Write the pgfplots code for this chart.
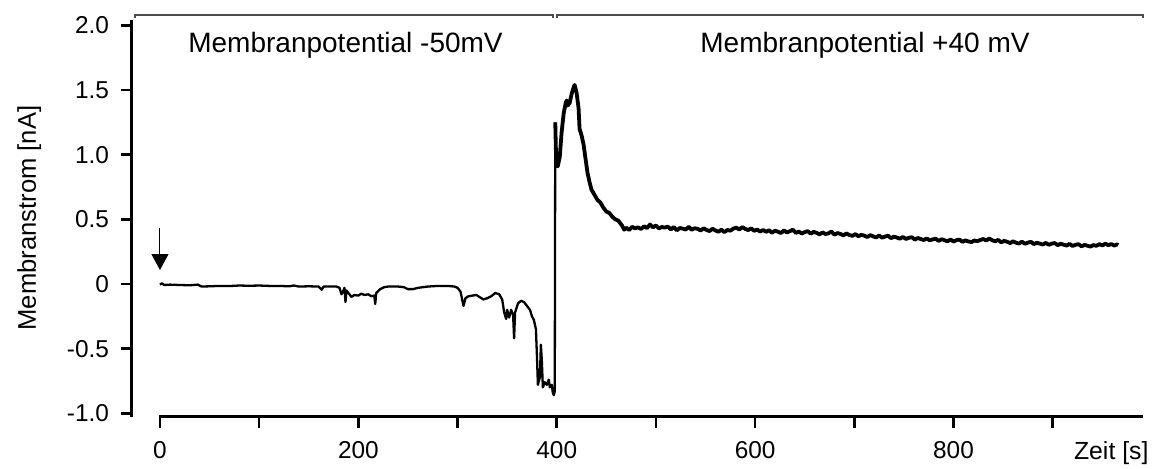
\documentclass[border=0pt]{standalone}
\usepackage{pgfplots}
\pgfplotsset{compat=1.18}
\usepackage{fontspec}
\setmainfont{Liberation Sans}
\usetikzlibrary{arrows.meta}
\begin{document}
\begin{tikzpicture}[x=1pt,y=1pt]
\useasboundingbox (-66,-26) rectangle (514.5,208.5);
\begin{axis}[
 at={(0,0)}, anchor=south west,
 scale only axis, width=505.5pt, height=198.5pt,
 xmin=-28.2, xmax=991, ymin=-1.029, ymax=2.042,
 axis x line*=bottom, axis y line*=left,
 axis line style={draw=none},
 tick align=outside,
 major tick length=5.5pt,
 tick style={draw=black, line width=1.3pt},
 xtick={0,100,...,900},
 xticklabels={0,,200,,400,,600,,800,},
 ytick={-1,-0.5,0,0.5,1,1.5,2},
 yticklabels={-1.0,-0.5,0\hspace{5pt},0.5,1.0,1.5,2.0},
 tick label style={font=\fontsize{12.2}{14}\selectfont},
 xticklabel style={yshift=-3pt},
 yticklabel style={xshift=-2.5pt},
 clip=false,
]
% spines
\draw[line width=1.5pt] (axis cs:-28.2,2.042) -- (axis cs:-28.2,-1.029);
\draw[line width=1.5pt] (axis cs:-1,-1.029) -- (axis cs:991,-1.029);
% brackets
\draw[line width=0.7pt, black!70] (axis cs:-25.2,2.057) -- (axis cs:-25.2,2.080) -- (axis cs:396.2,2.080) -- (axis cs:396.2,2.057);
\draw[line width=0.7pt, black!70] (axis cs:400.2,2.057) -- (axis cs:400.2,2.080) -- (axis cs:991,2.080) -- (axis cs:991,2.057);
\node[anchor=base west, font=\fontsize{14}{16}\selectfont, inner sep=0] at (axis cs:28.2,1.787) {Membranpotential -50mV};
\node[anchor=base west, font=\fontsize{14}{16}\selectfont, inner sep=0] at (axis cs:544.4,1.787) {Membranpotential +40 mV};
% arrow
\draw[line width=0.5pt, -{Triangle[width=8.5pt,length=8pt]}] (axis cs:0,0.433) -- (axis cs:0,0.108);
% labels
\node[rotate=90, anchor=base, font=\fontsize{12.8}{15}\selectfont, inner sep=0] at (axis cs:-125,0.51) {Membranstrom [nA]};
\node[anchor=base, font=\fontsize{12.4}{14}\selectfont, inner sep=0] at (axis cs:959,-1.361) {Zeit [s]};
% trace, holding at -50 mV
\addplot[black, line width=1.15pt, line join=round] coordinates {
(0,-0.005) (2,0.006) (4,-0.008) (10,-0.005) (20,-0.008) (30,-0.01) (38,-0.005)
(42,-0.02) (50,-0.018) (60,-0.015) (70,-0.016) (80,-0.012) (90,-0.014) (100,-0.012)
(110,-0.015) (120,-0.015) (130,-0.018) (135,-0.012) (140,-0.02) (150,-0.018) (160,-0.02)
(163,-0.045) (165,-0.02) (170,-0.02) (178,-0.02) (181,-0.03) (183,-0.08) (185,-0.05)
(186,-0.03) (187,-0.14) (188,-0.05) (190,-0.07) (193,-0.1) (196,-0.085) (200,-0.09)
(203,-0.075) (206,-0.085) (210,-0.08) (213,-0.095) (216,-0.09) (217,-0.155) (218,-0.07)
(222,-0.04) (226,-0.025) (230,-0.02) (240,-0.02) (246,-0.025) (250,-0.04) (255,-0.04)
(260,-0.03) (265,-0.025) (270,-0.02) (280,-0.015) (290,-0.015) (297,-0.02) (300,-0.03)
(303,-0.06) (306,-0.17) (308,-0.11) (311,-0.095) (315,-0.09) (319,-0.085) (322,-0.1)
(326,-0.12) (330,-0.11) (334,-0.095) (338,-0.07) (342,-0.08) (345,-0.12) (347,-0.22)
(349,-0.27) (350,-0.2) (352,-0.26) (354,-0.2) (356,-0.24) (357,-0.42) (358,-0.22)
(361,-0.15) (364,-0.13) (367,-0.14) (370,-0.17) (373,-0.2) (375,-0.25) (377,-0.28)
(379,-0.35) (380,-0.55) (381,-0.78) (383,-0.72) (384,-0.47) (385,-0.6) (386,-0.8)
(388,-0.76) (390,-0.78) (392,-0.74) (393,-0.8) (395,-0.78) (396,-0.84) (397,-0.86)
(398,-0.83) (398.5,1.25)
};
% trace, holding at +40 mV
\addplot[black, line width=1.9pt, line join=round] coordinates {
(398.5,1.25) (399.5,0.92) (401,0.91) (403,0.98) (405,1.18) (407,1.32)
(409,1.40) (410,1.42) (411,1.38) (413,1.40) (415,1.47) (417,1.52) (418,1.54) (419,1.51)
(420,1.48) (422,1.36) (423,1.20) (425,1.15) (427,1.08) (429,0.97) (431,0.86) (433,0.79)
(435,0.73) (438,0.69) (441,0.65) (444,0.63) (447,0.59) (450,0.56) (453,0.55) (456,0.52)
(459,0.50) (462,0.49) (464,0.47) (466,0.45) (468,0.42)
(470,0.435) (473,0.418) (476,0.442) (479,0.430) (482,0.438) (485,0.425) (488,0.446)
(491,0.432) (494,0.460) (497,0.438) (500,0.452) (503,0.430) (506,0.441) (509,0.436)
(512,0.444) (515,0.422) (518,0.440) (521,0.415) (524,0.433) (527,0.428) (530,0.421)
(533,0.442) (536,0.419) (539,0.431) (542,0.426) (545,0.414) (548,0.430) (551,0.418)
(554,0.409) (557,0.427) (560,0.414) (563,0.404) (566,0.420) (569,0.401) (572,0.418)
(575,0.412) (578,0.428) (581,0.436) (584,0.421) (587,0.440) (590,0.426) (593,0.417)
(596,0.430) (599,0.411) (602,0.421) (605,0.405) (608,0.418) (611,0.403) (614,0.416)
(617,0.396) (620,0.412) (623,0.404) (626,0.394) (629,0.414) (632,0.399) (635,0.408)
(638,0.420) (641,0.395) (644,0.406) (647,0.390) (650,0.401) (653,0.409) (656,0.389)
(659,0.403) (662,0.395) (665,0.384) (668,0.399) (671,0.386) (674,0.392) (677,0.406)
(680,0.381) (683,0.394) (686,0.387) (689,0.376) (692,0.391) (695,0.379) (698,0.372)
(701,0.386) (704,0.369) (707,0.380) (710,0.374) (713,0.363) (716,0.378) (719,0.368)
(722,0.360) (725,0.375) (728,0.358) (731,0.367) (734,0.373) (737,0.354) (740,0.366)
(743,0.359) (746,0.350) (749,0.364) (752,0.348) (755,0.357) (758,0.362) (761,0.343)
(764,0.356) (767,0.347) (770,0.340) (773,0.352) (776,0.337) (779,0.345) (782,0.350)
(785,0.333) (788,0.346) (791,0.338) (794,0.330) (797,0.344) (800,0.328) (803,0.339)
(806,0.343) (809,0.326) (812,0.337) (815,0.329) (818,0.324) (821,0.336) (824,0.331)
(827,0.340) (830,0.348) (833,0.336) (836,0.352) (839,0.338) (842,0.330) (845,0.341)
(848,0.322) (851,0.333) (854,0.327) (857,0.316) (860,0.330) (863,0.319) (866,0.313)
(869,0.327) (872,0.311) (875,0.320) (878,0.326) (881,0.308) (884,0.319) (887,0.312)
(890,0.305) (893,0.318) (896,0.303) (899,0.312) (902,0.317) (905,0.300) (908,0.311)
(911,0.304) (914,0.297) (917,0.310) (920,0.294) (923,0.303) (926,0.308) (929,0.291)
(932,0.302) (935,0.296) (938,0.289) (941,0.301) (944,0.295) (947,0.308) (950,0.298)
(953,0.311) (956,0.300) (959,0.309) (962,0.297) (965,0.306) (966,0.301)
};
\end{axis}
\end{tikzpicture}
\end{document}
